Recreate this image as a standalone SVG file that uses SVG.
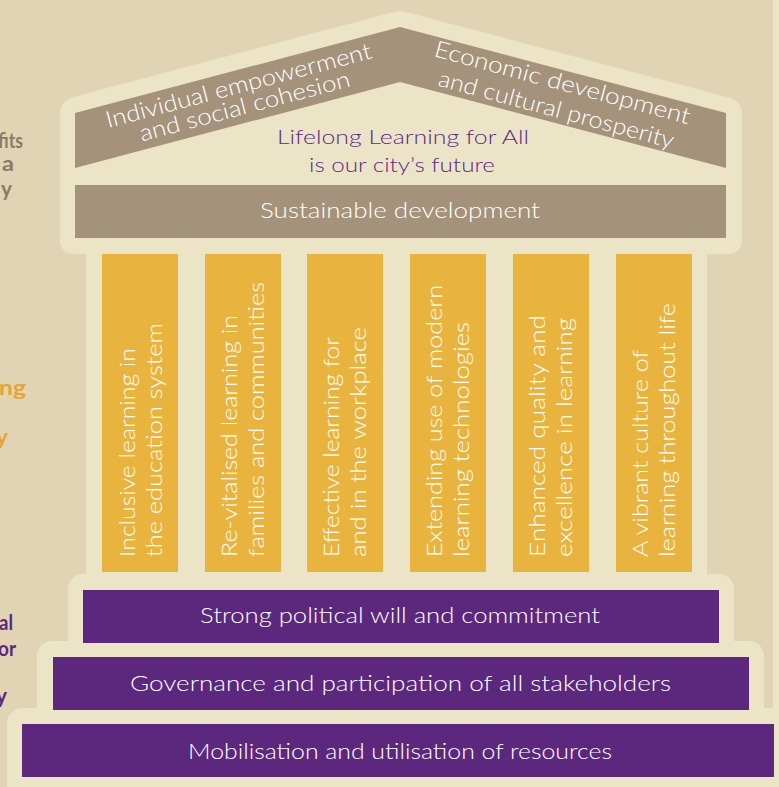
<svg xmlns="http://www.w3.org/2000/svg" width="779" height="787" viewBox="0 0 779 787">
<style>
.t{font-family:"Lato","Liberation Sans",sans-serif;font-weight:300}
.w{fill:#ffffff}
.col{font-size:21px}
.bar{font-size:22px}
.roof{font-size:23px}
.frag{font-family:"Lato","Liberation Sans",sans-serif;font-weight:700;font-size:20px}
.cream{fill:#ece4c7}
.brown{fill:#a5927a}
.pillar{fill:#e8b43e}
.purple{fill:#5b287e}
</style>
<rect width="779" height="787" fill="#e0d4b4"/>
<rect x="773" y="0" width="6" height="787" class="cream"/>

<g id="fragments">
<text class="frag" x="-2" y="148" fill="#8d7b66" textLength="25" lengthAdjust="spacingAndGlyphs">fits</text>
<text class="frag" x="2" y="171" fill="#8d7b66" textLength="12" lengthAdjust="spacingAndGlyphs">a</text>
<text class="frag" x="1" y="196" fill="#8d7b66" textLength="11" lengthAdjust="spacingAndGlyphs">y</text>
<text class="frag" x="-1" y="395" fill="#e6a532" textLength="27" lengthAdjust="spacingAndGlyphs">ng</text>
<text class="frag" x="-4" y="444" fill="#e6a532" textLength="12" lengthAdjust="spacingAndGlyphs">y</text>
<text class="frag" x="-1" y="630" fill="#5b287e" textLength="14" lengthAdjust="spacingAndGlyphs">al</text>
<text class="frag" x="-2" y="656" fill="#5b287e" textLength="18" lengthAdjust="spacingAndGlyphs">or</text>
<text class="frag" x="-4" y="703" fill="#5b287e" textLength="11" lengthAdjust="spacingAndGlyphs">y</text>
</g>

<g id="roof">
<path class="cream" d="M60,115 Q60,100.5 74,96.8 L394,12 Q400,10.5 406,12 L728,97.3 Q742,101 742,115 L742,239 Q742,254 727,254 L75,254 Q60,254 60,239 Z"/>
<polygon class="brown" points="75,113 400,27 726,113 726,168 400,82 75,168"/>
<text class="t w roof" transform="translate(108,128) rotate(-14.8)" textLength="274" lengthAdjust="spacingAndGlyphs">Individual empowerment</text>
<text class="t w roof" transform="translate(141.7,141.5) rotate(-14.8)" textLength="217" lengthAdjust="spacingAndGlyphs">and social cohesion</text>
<text class="t w roof" transform="translate(433,56) rotate(15)" textLength="264" lengthAdjust="spacingAndGlyphs">Economic development</text>
<text class="t w roof" transform="translate(437,85.5) rotate(15)" textLength="243" lengthAdjust="spacingAndGlyphs">and cultural prosperity</text>
<text class="t" x="277" y="144" font-size="20" fill="#5c2a82" textLength="252" lengthAdjust="spacingAndGlyphs">Lifelong Learning for All</text>
<text class="t" x="309" y="171.5" font-size="20" fill="#5c2a82" textLength="186" lengthAdjust="spacingAndGlyphs">is our city’s future</text>
</g>

<g id="sustainable">
<rect class="brown" x="75" y="185" width="651" height="53"/>
<text class="t w bar" x="260" y="218" textLength="280" lengthAdjust="spacingAndGlyphs">Sustainable development</text>
</g>

<rect class="cream" x="86" y="250" width="621" height="330"/>

<g id="pillar1">
<rect class="pillar" x="102" y="254" width="76" height="318"/>
<text class="t w col" transform="translate(135,557) rotate(-90)" textLength="209" lengthAdjust="spacingAndGlyphs">Inclusive learning in</text>
<text class="t w col" transform="translate(162,557) rotate(-90)" textLength="234" lengthAdjust="spacingAndGlyphs">the education system</text>
</g>
<g id="pillar2">
<rect class="pillar" x="205" y="254" width="76" height="318"/>
<text class="t w col" transform="translate(237,557) rotate(-90)" textLength="242" lengthAdjust="spacingAndGlyphs">Re-vitalised learning in</text>
<text class="t w col" transform="translate(264,557) rotate(-90)" textLength="275" lengthAdjust="spacingAndGlyphs">families and communities</text>
</g>
<g id="pillar3">
<rect class="pillar" x="307" y="254" width="76" height="318"/>
<text class="t w col" transform="translate(339,557) rotate(-90)" textLength="220" lengthAdjust="spacingAndGlyphs">Effective learning for</text>
<text class="t w col" transform="translate(366,557) rotate(-90)" textLength="230" lengthAdjust="spacingAndGlyphs">and in the workplace</text>
</g>
<g id="pillar4">
<rect class="pillar" x="410" y="254" width="76" height="318"/>
<text class="t w col" transform="translate(442,557) rotate(-90)" textLength="272" lengthAdjust="spacingAndGlyphs">Extending use of modern</text>
<text class="t w col" transform="translate(469,557) rotate(-90)" textLength="235" lengthAdjust="spacingAndGlyphs">learning technologies</text>
</g>
<g id="pillar5">
<rect class="pillar" x="513" y="254" width="76" height="318"/>
<text class="t w col" transform="translate(545,557) rotate(-90)" textLength="242" lengthAdjust="spacingAndGlyphs">Enhanced quality and</text>
<text class="t w col" transform="translate(572,557) rotate(-90)" textLength="239" lengthAdjust="spacingAndGlyphs">excellence in learning</text>
</g>
<g id="pillar6">
<rect class="pillar" x="616" y="254" width="76" height="318"/>
<text class="t w col" transform="translate(648,557) rotate(-90)" textLength="207" lengthAdjust="spacingAndGlyphs">A vibrant culture of</text>
<text class="t w col" transform="translate(675,557) rotate(-90)" textLength="254" lengthAdjust="spacingAndGlyphs">learning throughout life</text>
</g>

<g id="base">
<rect class="cream" x="68" y="574" width="666" height="90" rx="15"/>
<rect class="cream" x="37" y="641" width="727" height="90" rx="15"/>
<rect class="cream" x="7" y="708" width="800" height="100" rx="15"/>
</g>
<g id="step1">
<rect class="purple" x="83" y="590" width="636" height="53"/>
<text class="t w bar" x="200" y="623" textLength="400" lengthAdjust="spacingAndGlyphs">Strong political will and commitment</text>
</g>
<g id="step2">
<rect class="purple" x="53" y="657" width="696" height="53"/>
<text class="t w bar" x="130" y="691" textLength="541" lengthAdjust="spacingAndGlyphs">Governance and participation of all stakeholders</text>
</g>
<g id="step3">
<rect class="purple" x="22" y="724" width="752" height="53"/>
<text class="t w bar" x="188" y="758.5" textLength="424" lengthAdjust="spacingAndGlyphs">Mobilisation and utilisation of resources</text>
</g>
<g id="connectors"/>
</svg>
